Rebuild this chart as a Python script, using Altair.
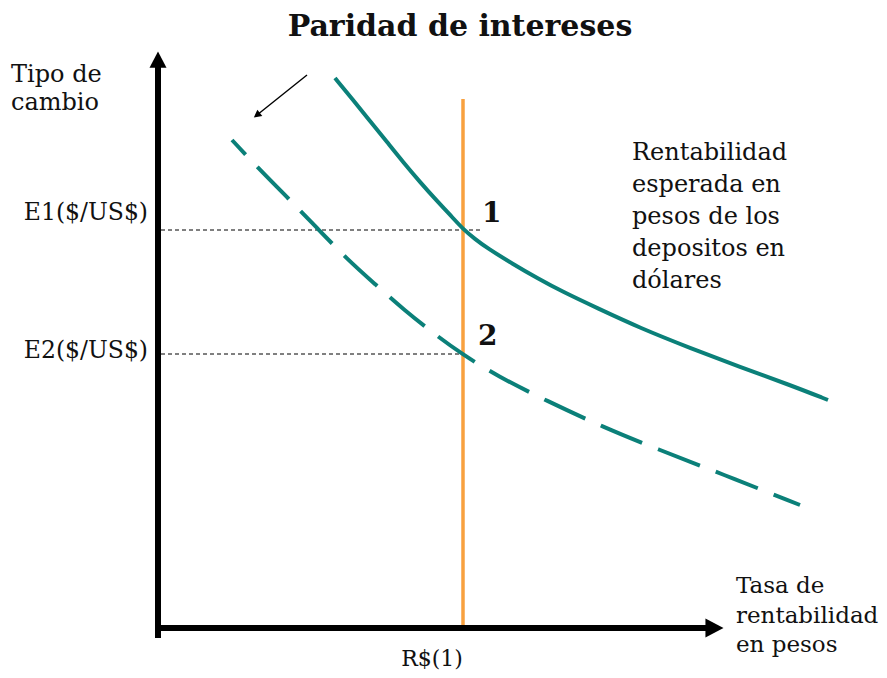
import altair as alt
import pandas as pd

# ---- data (diagram units; origin at the axes' intersection) ----
solid_x = [177, 195, 212, 229, 245, 262, 279, 295, 305, 317, 329, 355, 379, 405, 439, 482, 532, 582, 632, 670]
solid_y = [552, 530, 509, 488, 468, 448, 429, 412, 401, 391, 382, 366, 352, 338, 322, 302, 282, 263, 245, 230]
dash_x = [74, 102, 130, 160, 190, 217, 246, 279, 304, 339, 389, 445, 499, 564, 642]
dash_y = [490, 460, 432, 401, 370, 346, 320, 294, 276, 254, 229, 203, 181, 156, 125]

R1 = 305          # R$(1)
E1 = 400          # E1($/US$)
E2 = 276          # E2($/US$)
R_TOP = 531
X_END = 550
Y_TOP = 565

XD = [-150, 721]
YD = [-40, 622]

def X(f="x"):
    return alt.X(f + ":Q", scale=alt.Scale(domain=XD), axis=None)

def Y(f="y"):
    return alt.Y(f + ":Q", scale=alt.Scale(domain=YD), axis=None)

TEAL = "#0B8079"
ORANGE = "#F8A13F"
FONT = "DejaVu Serif"

solid = pd.DataFrame({"x": solid_x, "y": solid_y})
dashed = pd.DataFrame({"x": dash_x, "y": dash_y})

axes_df = pd.DataFrame({
    "x": [0, 0], "x2": [0, X_END], "y": [-8, 2], "y2": [Y_TOP, 2]
})
heads_df = pd.DataFrame({
    "x": [0, 556, 99], "y": [570, 2, 515], "angle": [0, 90, 232], "size": [289, 361, 64]
})
small_arrow = pd.DataFrame({"x": [149], "x2": [99], "y": [555], "y2": [515]})
guides = pd.DataFrame({"x": [3, 3], "x2": [324, R1], "y": [E1, E2]})
rline = pd.DataFrame({"x": [R1], "y": [0], "y2": [R_TOP]})

axes = alt.Chart(axes_df).mark_rule(color="black", strokeWidth=6).encode(
    x=X(), x2="x2:Q", y=Y(), y2="y2:Q")
heads = alt.Chart(heads_df).mark_point(
    shape="M0,-1L1,0.9L-1,0.9Z", filled=True, color="black", opacity=1, strokeWidth=0
).encode(x=X(), y=Y(), angle=alt.Angle("angle:Q", scale=None), size=alt.Size("size:Q", scale=None))
sarrow = alt.Chart(small_arrow).mark_rule(color="black", strokeWidth=1.5).encode(
    x=X(), x2="x2:Q", y=Y(), y2="y2:Q")
guide = alt.Chart(guides).mark_rule(color="black", strokeWidth=1, strokeDash=[4, 3]).encode(
    x=X(), x2="x2:Q", y=Y())
orange = alt.Chart(rline).mark_rule(color=ORANGE, strokeWidth=3.5).encode(
    x=X(), y=Y(), y2="y2:Q")
l_solid = alt.Chart(solid).mark_line(color=TEAL, strokeWidth=4, interpolate="basis").encode(
    x=X(), y=Y(), order="x:Q")
l_dash = alt.Chart(dashed).mark_line(color=TEAL, strokeWidth=4, interpolate="basis",
                                     strokeDash=[45, 17], strokeDashOffset=25).encode(
    x=X(), y=Y(), order="x:Q")

def txt(df, **kw):
    base = dict(font=FONT, fontSize=24, color="#111111", baseline="alphabetic", lineBreak="\n")
    base.update(kw)
    return alt.Chart(df).mark_text(**base).encode(x=X(), y=Y(), text="t:N")

labels_left = pd.DataFrame({"x": [-10, -10], "y": [410, 272], "t": ["E1($/US$)", "E2($/US$)"]})
t_title = txt(pd.DataFrame({"x": [302], "y": [594], "t": ["Paridad de intereses"]}),
              align="center", fontSize=30, fontWeight="bold")
t_ylab = txt(pd.DataFrame({"x": [-147], "y": [548], "t": ["Tipo de\ncambio"]}),
             align="left", lineHeight=28)
t_e = txt(labels_left, align="right", fontSize=23.5)
t_nums = txt(pd.DataFrame({"x": [324, 320], "y": [408, 285], "t": ["1", "2"]}),
             align="left", fontSize=28, fontWeight="bold")
t_r = txt(pd.DataFrame({"x": [274], "y": [-36], "t": ["R$(1)"]}), align="center", fontSize=22)
t_curve = txt(pd.DataFrame({"x": [474], "y": [470],
                            "t": ["Rentabilidad\nesperada en\npesos de los\ndepositos en\ndólares"]}),
              align="left", lineHeight=32)
t_xlab = txt(pd.DataFrame({"x": [578], "y": [37], "t": ["Tasa de\nrentabilidad\nen pesos"]}),
             align="left", lineHeight=29.5, fontSize=23)

chart = alt.layer(
    guide, orange, l_dash, l_solid, axes, heads, sarrow,
    t_title, t_ylab, t_e, t_nums, t_r, t_curve, t_xlab
).properties(
    width=871, height=662, autosize=alt.AutoSizeParams(type="none"), padding=0,
    background="white"
).configure_view(stroke=None)

chart.save("out.html", embed_options={"renderer": "svg", "actions": False})
